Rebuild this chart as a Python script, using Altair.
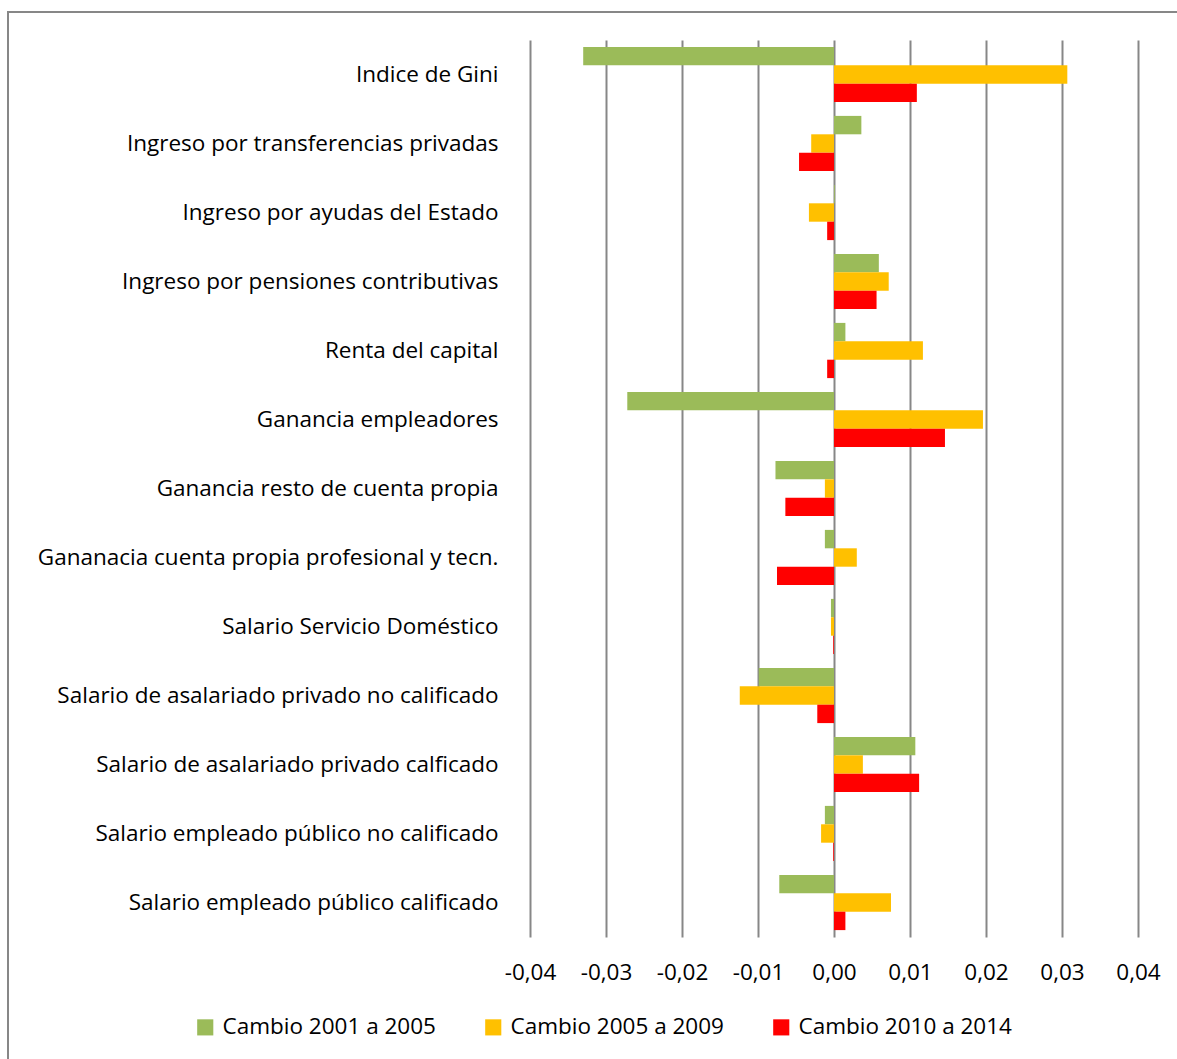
import altair as alt
import pandas as pd

categories = [
    "Indice de Gini",
    "Ingreso por transferencias privadas",
    "Ingreso por ayudas del Estado",
    "Ingreso por pensiones contributivas",
    "Renta del capital",
    "Ganancia empleadores",
    "Ganancia resto de cuenta propia",
    "Gananacia cuenta propia profesional y tecn.",
    "Salario Servicio Doméstico",
    "Salario de asalariado  privado no calificado",
    "Salario de asalariado  privado calficado",
    "Salario empleado  público no calificado",
    "Salario empleado  público calificado",
]
series = ["Cambio 2001 a 2005", "Cambio 2005 a 2009", "Cambio 2010 a 2014"]
cambio_2001_2005 = [-0.0330, 0.0036, 0.0001, 0.0059, 0.0015, -0.0272, -0.0077,
                    -0.0012, -0.0004, -0.0099, 0.0107, -0.0012, -0.0072]
cambio_2005_2009 = [0.0307, -0.0030, -0.0033, 0.0072, 0.0117, 0.0196, -0.0012,
                    0.0030, -0.0004, -0.0124, 0.0038, -0.0017, 0.0075]
cambio_2010_2014 = [0.0109, -0.0046, -0.0009, 0.0056, -0.0009, 0.0146, -0.0064,
                    -0.0075, -0.0001, -0.0022, 0.0112, -0.0001, 0.0015]
colors = ["#9BBB59", "#FFC000", "#FF0000"]
x_ticks = [-0.04, -0.03, -0.02, -0.01, 0.0, 0.01, 0.02, 0.03, 0.04]

rows = []
for s, vals in zip(series, [cambio_2001_2005, cambio_2005_2009, cambio_2010_2014]):
    for c, v in zip(categories, vals):
        rows.append({"categoria": c, "serie": s, "valor": v})
df = pd.DataFrame(rows)

FONT = "Open Sans"
FS = 22.5

bars = alt.Chart(df).mark_bar().encode(
    y=alt.Y("categoria:N", sort=categories, title=None,
            scale=alt.Scale(paddingInner=0.2, paddingOuter=0.1),
            axis=alt.Axis(labelFontSize=FS, labelFont=FONT, labelColor="#000000",
                          labelPadding=32, labelLimit=700, ticks=False, domain=False,
                          grid=False)),
    yOffset=alt.YOffset("serie:N", sort=series),
    x=alt.X("valor:Q", title=None,
            scale=alt.Scale(domain=[-0.04, 0.04], nice=False),
            axis=alt.Axis(values=x_ticks,
                          labelExpr="replace(replace(format(datum.value, '.2f'), '.', ','), '\u2212', '-')",
                          labelFontSize=FS, labelFont=FONT, labelColor="#000000",
                          labelPadding=24, labelOverlap=False, labelFlush=False,
                          ticks=False, domain=False,
                          grid=True, gridColor="#878787", gridWidth=2)),
    color=alt.Color("serie:N", sort=series,
                    scale=alt.Scale(domain=series, range=colors),
                    legend=alt.Legend(title=None, orient="none", direction="horizontal",
                                      legendX=-336, legendY=976,
                                      symbolType="square", symbolSize=260,
                                      symbolStrokeWidth=0, labelLimit=400,
                                      labelFontSize=FS, labelFont=FONT,
                                      labelColor="#000000", labelOffset=6,
                                      columnPadding=46)),
)

frame = alt.Chart(pd.DataFrame({"k": [0]})).mark_rect(
    fill=None, stroke="#878787", strokeWidth=2, clip=False
).encode(
    x=alt.value(-522), x2=alt.value(700),
    y=alt.value(-28), y2=alt.value(1100),
)

chart = alt.layer(frame, bars).properties(
    width=608, height=897,
    padding={"left": 530, "top": 40, "right": 39, "bottom": 122},
    autosize=alt.AutoSizeParams(type="none"),
    background="white",
).configure_view(stroke=None)

chart.save("out.html", embed_options={"renderer": "svg", "actions": False})
